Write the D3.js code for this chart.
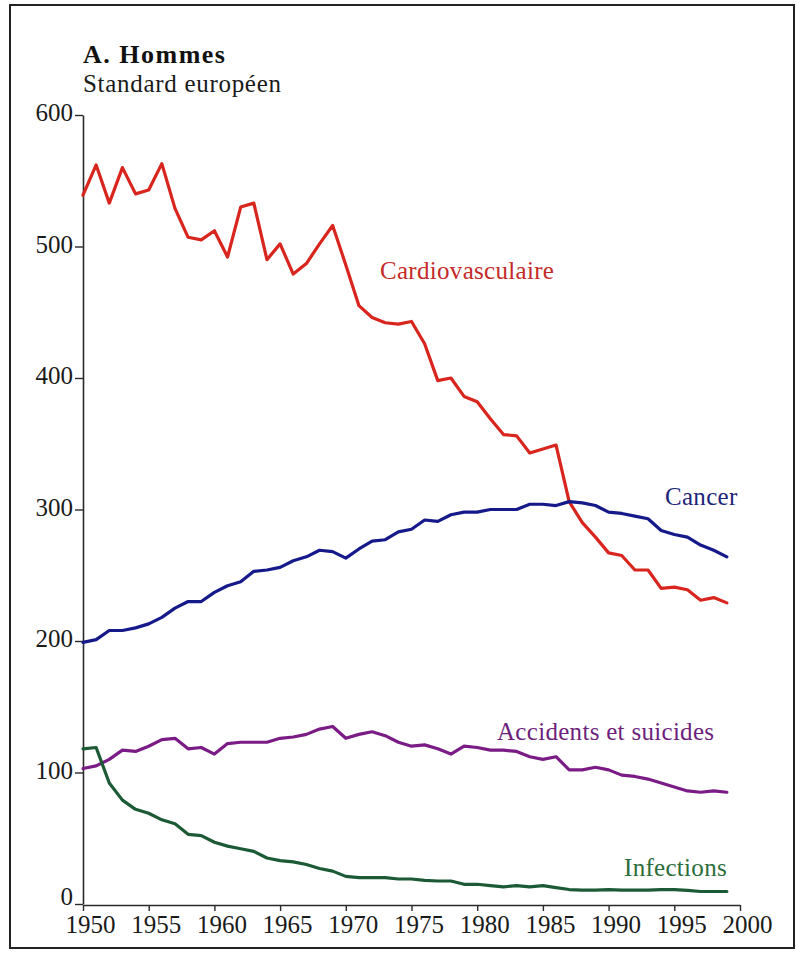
<!DOCTYPE html>
<html>
<head>
<meta charset="utf-8">
<script src="https://cdn.jsdelivr.net/npm/d3@7/dist/d3.min.js"></script>
<style>
  html, body { margin: 0; padding: 0; background: #fff; }
  svg { display: block; }
  text { font-family: "Liberation Serif", "Times New Roman", serif; }
</style>
</head>
<body>
<svg id="chart" width="796" height="960"></svg>
<script>
const years = d3.range(1950, 2000);
const yTicks = [0, 100, 200, 300, 400, 500, 600];
const xTicks = [1950, 1955, 1960, 1965, 1970, 1975, 1980, 1985, 1990, 1995, 2000];

const cardiovasculaire = [
  539, 562, 533, 560, 540, 543, 563, 529, 507, 505,
  512, 492, 530, 533, 490, 502, 479, 487, 502, 516,
  486, 455, 446, 442, 441, 443, 426, 398, 400, 386,
  382, 369, 357, 356, 343, 346, 349, 306, 290, 279,
  267, 265, 254, 254, 240, 241, 239, 231, 233, 229
];
const cancer = [
  199, 201, 208, 208, 210, 213, 218, 225, 230, 230,
  237, 242, 245, 253, 254, 256, 261, 264, 269, 268,
  263, 270, 276, 277, 283, 285, 292, 291, 296, 298,
  298, 300, 300, 300, 304, 304, 303, 306, 305, 303,
  298, 297, 295, 293, 284, 281, 279, 273, 269, 264
];
const accidents = [
  103, 105, 110, 117, 116, 120, 125, 126, 118, 119,
  114, 122, 123, 123, 123, 126, 127, 129, 133, 135,
  126, 129, 131, 128, 123, 120, 121, 118, 114, 120,
  119, 117, 117, 116, 112, 110, 112, 102, 102, 104,
  102, 98, 97, 95, 92, 89, 86, 85, 86, 85
];
const infections = [
  118, 119, 92, 79, 72, 69, 64, 61, 53, 52,
  47, 44, 42, 40, 35, 33, 32, 30, 27, 25,
  21, 20, 20, 20, 19, 19, 18, 17.5, 17.5, 15,
  15, 14, 13, 14, 13, 14, 12.5, 11, 10.5, 10.5,
  11, 10.5, 10.5, 10.5, 11, 11, 10.3, 9.5, 9.5, 9.5
];
const seriesNames = ["Cardiovasculaire", "Cancer", "Accidents et suicides", "Infections"];
const seriesValues = [cardiovasculaire, cancer, accidents, infections];
const lineColors = ["#d8251d", "#16198a", "#7a1b86", "#1c5a35"];
const labelColors = ["#c42a28", "#1d2478", "#6d1f7c", "#2b6d38"];
const labelPos = [[380, 279], [665, 505], [497, 740], [624, 876]];

const svg = d3.select("#chart");

// frame
svg.append("rect")
  .attr("x", 10).attr("y", 5).attr("width", 784).attr("height", 943)
  .attr("fill", "none").attr("stroke", "#222").attr("stroke-width", 2);

const x = d3.scaleLinear().domain([1950, 2000]).range([83, 740]);
const y = d3.scaleLinear().domain([0, 600]).range([904, 115]);

// axes
const yAxis = d3.axisLeft(y).tickValues(yTicks).tickSize(8).tickSizeOuter(0).tickPadding(2).tickFormat(d3.format("d"));
const gy = svg.append("g").attr("transform", "translate(83,0)").call(yAxis);
const xAxis = d3.axisBottom(x).tickValues(xTicks).tickSize(6).tickSizeOuter(0).tickPadding(4).tickFormat(d3.format("d"));
const gx = svg.append("g").attr("transform", "translate(0,905)").call(xAxis);

[gx, gy].forEach(g => {
  g.select(".domain").attr("stroke", "#2a2a2a").attr("stroke-width", 1.6);
  g.selectAll(".tick line").attr("stroke", "#2a2a2a").attr("stroke-width", 1.4);
  g.selectAll(".tick text")
    .attr("font-family", "'Liberation Serif', 'Times New Roman', serif")
    .attr("font-size", 25).attr("fill", "#1a1a1a");
});
gx.selectAll(".tick text").attr("dx", 7);
gy.selectAll(".tick text").attr("dy", d => d === 0 ? "0em" : "0.22em");

// lines
const line = d3.line().x((d, i) => x(years[i])).y(d => y(d));
seriesValues.forEach((vals, k) => {
  svg.append("path")
    .datum(vals)
    .attr("d", line)
    .attr("fill", "none")
    .attr("stroke", lineColors[k])
    .attr("stroke-width", 3.2)
    .attr("stroke-linejoin", "round")
    .attr("stroke-linecap", "round");
});

// series labels
seriesNames.forEach((name, k) => {
  svg.append("text")
    .attr("x", labelPos[k][0]).attr("y", labelPos[k][1])
    .attr("font-size", 25)
    .attr("letter-spacing", 0.3)
    .attr("fill", labelColors[k])
    .text(name);
});

// title
svg.append("text")
  .attr("x", 83).attr("y", 63)
  .attr("font-size", 26).attr("font-weight", "bold")
  .attr("letter-spacing", 1.5)
  .attr("fill", "#111")
  .text("A. Hommes");
svg.append("text")
  .attr("x", 83).attr("y", 92)
  .attr("font-size", 25)
  .attr("letter-spacing", 0.7)
  .attr("fill", "#1a1a1a")
  .text("Standard européen");
</script>
</body>
</html>
